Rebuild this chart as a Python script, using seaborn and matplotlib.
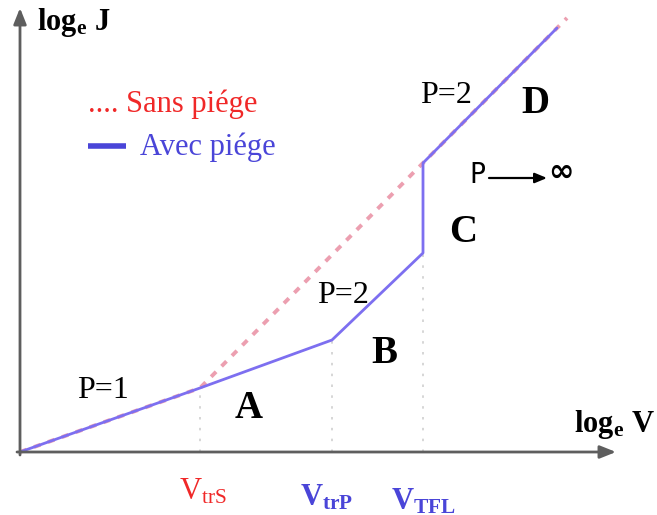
import matplotlib
matplotlib.use("Agg")
import matplotlib.pyplot as plt
import seaborn as sns
import pandas as pd

# log V / log J coordinates of the J-V characteristic (arbitrary units)
logv_trap = [0, 180, 312, 403, 403, 537]
logj_trap = [0, 64, 112, 199, 289, 424]
logv_free = [0, 180, 403, 547]
logj_free = [0, 64, 289, 434]

# characteristic voltages on the log V axis
v_marks = [180, 312, 403]
v_marks_j = [64, 112, 199]

sns.set_theme(style="white")
plt.rcParams["mathtext.fontset"] = "custom"
plt.rcParams["mathtext.rm"] = "Liberation Serif"
plt.rcParams["mathtext.bf"] = "Liberation Serif:bold"
plt.rcParams["mathtext.it"] = "Liberation Serif:italic"
plt.rcParams["font.family"] = ["Liberation Serif", "DejaVu Serif"]

W, H = 657, 515
fig = plt.figure(figsize=(W / 100, H / 100), dpi=100)
ax = fig.add_axes([0, 0, 1, 1])
ax.set_xlim(-20, W - 20)
ax.set_ylim(-(H - 452), 452)
ax.axis("off")


def px(x, y):
    return x / W, 1 - y / H


BLUE_LINE = "#7d6ff0"
PINK = "#ec9fb0"
RED = "#f02828"
BLUE_TXT = "#4a45d8"

# guide lines down to the voltage axis
for xv, yv in zip(v_marks, v_marks_j):
    ax.plot([xv, xv], [0, yv], color="#cfcfcf", lw=1.2, ls=(0, (1.5, 5)), zorder=1)

# trap-free (Sans piége) curve
df_free = pd.DataFrame({"logV": logv_free, "logJ": logj_free})
sns.lineplot(data=df_free, x="logV", y="logJ", sort=False, estimator=None,
             color=PINK, lw=2.8, ax=ax, zorder=2)
ax.lines[-1].set_dashes((1.8, 2.0))

# with traps (Avec piége) curve
df_trap = pd.DataFrame({"logV": logv_trap, "logJ": logj_trap})
sns.lineplot(data=df_trap, x="logV", y="logJ", sort=False, estimator=None,
             color=BLUE_LINE, lw=2.0, ax=ax, zorder=3)

# axes with arrows
arrow_kw = dict(arrowstyle="-|>,head_length=0.8,head_width=0.32", color="#5e5e5e",
                lw=2.0, shrinkA=0, shrinkB=0)
ax.annotate("", xy=(0, 444), xytext=(0, -3), arrowprops=arrow_kw, zorder=4)
ax.annotate("", xy=(596, 0), xytext=(-3, 0), arrowprops=arrow_kw, zorder=4)

# axis titles
ax.text(*px(37, 30), r"log$_{\mathbf{e}}$ J", transform=ax.transAxes, fontsize=22,
        fontweight="bold", color="black", ha="left", va="baseline")
ax.text(*px(574, 432), r"log$_{\mathbf{e}}$ V", transform=ax.transAxes, fontsize=22,
        fontweight="bold", color="black", ha="left", va="baseline")

# legend
ax.text(*px(88, 112), ".... Sans piége", transform=ax.transAxes, fontsize=22,
        color=RED, ha="left", va="baseline")
ax.plot([88 / W, 126 / W], [1 - 146 / H, 1 - 146 / H], transform=ax.transAxes,
        color=BLUE_TXT, lw=4, solid_capstyle="butt")
ax.text(*px(140, 155), "Avec piége", transform=ax.transAxes, fontsize=22,
        color=BLUE_TXT, ha="left", va="baseline")

# slope annotations
ax.text(*px(77, 398), "P=1", transform=ax.transAxes, fontsize=23, color="black",
        ha="left", va="baseline")
ax.text(*px(317, 303), "P=2", transform=ax.transAxes, fontsize=23, color="black",
        ha="left", va="baseline")
ax.text(*px(420, 103), "P=2", transform=ax.transAxes, fontsize=23, color="black",
        ha="left", va="baseline")

# region letters
for letter, (x, y) in {"A": (235, 418), "B": (371, 363), "C": (449, 242), "D": (521, 113)}.items():
    ax.text(*px(x, y), letter, transform=ax.transAxes, fontsize=28, fontweight="bold",
            color="black", ha="left", va="baseline")

# P -> infinity
ax.text(*px(469, 183), "P", transform=ax.transAxes, fontsize=21, family="DejaVu Sans",
        fontstretch="condensed", color="black", ha="left", va="baseline")
ax.annotate("", xy=px(547, 178), xytext=px(489, 178), xycoords="axes fraction",
            textcoords="axes fraction",
            arrowprops=dict(arrowstyle="-|>,head_length=0.6,head_width=0.25",
                            color="black", lw=1.6, shrinkA=0, shrinkB=0))
ax.text(*px(548, 181), "∞", transform=ax.transAxes, fontsize=22, family="DejaVu Sans",
        fontweight="bold", color="black", ha="left", va="baseline")

# voltage markers
ax.text(*px(179, 500), r"V$_{\mathrm{trS}}$", transform=ax.transAxes, fontsize=22,
        color=RED, ha="left", va="baseline")
ax.text(*px(300, 506), r"V$_{\mathbf{trP}}$", transform=ax.transAxes, fontsize=22,
        fontweight="bold", color=BLUE_TXT, ha="left", va="baseline")
ax.text(*px(391, 509), r"V$_{\mathbf{TFL}}$", transform=ax.transAxes, fontsize=22,
        fontweight="bold", color=BLUE_TXT, ha="left", va="baseline")

fig.savefig("out.png", dpi=100, facecolor="white")
